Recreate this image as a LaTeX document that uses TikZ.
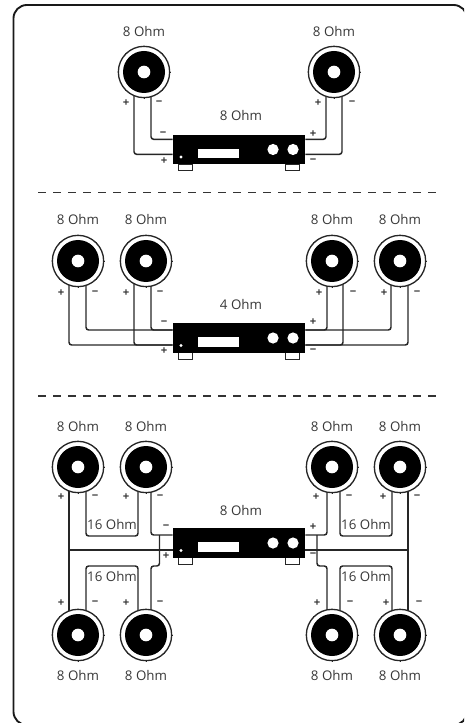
\documentclass[tikz,border=0pt]{standalone}
\usepackage{fontspec}
\setmainfont{Open Sans}
\usetikzlibrary{calc,backgrounds}
\definecolor{txt}{gray}{0.22}
\tikzset{
  x=0.75pt,y=-0.75pt,
  wire/.style={draw=black!85,line width=1.1pt,rounded corners=2pt},
  heavy/.style={line width=1.5pt},
  ohm/.style={text=txt,font=\fontsize{10}{11}\selectfont,inner sep=0pt},
  sign/.style={text=txt,font=\fontsize{8.5}{10}\selectfont\bfseries,inner sep=0pt},
  cone/.style={circle,fill=black,inner sep=0pt,minimum size=31.5pt},
  rim/.style={circle,draw=black!85,fill=white,line width=1pt,inner sep=0pt,minimum size=38.5pt},
  hub/.style={circle,fill=white,inner sep=0pt,minimum size=9.5pt},
  chassis/.style={rectangle,fill=black,inner sep=0pt,minimum width=99pt,minimum height=22pt},
  foot/.style={rectangle,draw=black!85,fill=white,line width=0.9pt,inner sep=0pt,minimum width=11pt,minimum height=5pt},
  panel/.style={rectangle,fill=white,inner sep=0pt,minimum width=31pt,minimum height=6.8pt},
  knob/.style={circle,fill=white,inner sep=0pt,minimum size=8.4pt},
  led/.style={circle,fill=white,inner sep=0pt,minimum size=2.4pt},
  divider/.style={draw=black!80,line width=1pt,dash pattern=on 6pt off 5.25pt},
  frame/.style={draw=black!90,line width=1.4pt,rounded corners=10pt}
}
\newcommand{\speaker}[3]{%
  \node[rim] (#1) at (#2,#3) {};
  \foreach \a in {0,45,...,315}{\draw[black!85,line width=0.7pt] ($(#1)+(\a:25.6)$) -- ($(#1)+(\a:26.4)$);}
  \node[cone] (#1c) at (#1) {};
  \node[hub] (#1h) at (#1) {};
}
\newcommand{\ampl}[2]{%
  \node[foot] (#1fl) at (185.5,#2+18) {};
  \node[foot] (#1fr) at (292.5,#2+18) {};
  \node[chassis] (#1) at (239,#2) {};
  \node[panel] (#1p) at (218.5,#2+4) {};
  \node[knob] (#1ka) at (273,#2) {};
  \node[knob] (#1kb) at (293,#2) {};
  \node[led] (#1l) at (181,#2+7.5) {};
}
\newcount\lblc
\newcommand{\lbl}[4][sign]{\global\advance\lblc by 1 \node[#1] (lbl\the\lblc) at (#2,#3) {#4};}
\newcommand{\wirepath}[2][]{\begin{scope}[on background layer]\draw[wire,#1] #2;\end{scope}}
\begin{document}
\begin{tikzpicture}
\useasboundingbox (0,0) rectangle (464,723);
\clip (0,0) rectangle (464,723);
\draw[frame] (13.5,5) rectangle (467,725);
\coordinate (dl1) at (38,192.5); \coordinate (dr1) at (437,192.5);
\coordinate (dl2) at (38,396); \coordinate (dr2) at (437,396);
\draw[divider] (dl1) -- (dr1);
\draw[divider] (dl2) -- (dr2);

% ---------- top group
\speaker{a1}{144}{72}
\speaker{a2}{334}{72}
\ampl{ampa}{149.5}
\wirepath{($(a1)+(-10,20)$) |- ($(ampa.west)+(0,4.8)$)}
\wirepath{($(a1)+(7,20)$) |- ($(ampa.west)+(0,-10.2)$)}
\wirepath{($(a2)+(-8,20)$) |- ($(ampa.east)+(0,-10.2)$)}
\wirepath{($(a2)+(8,20)$) |- ($(ampa.east)+(0,4.8)$)}
\lbl[ohm]{144}{32}{8 Ohm}
\lbl[ohm]{334}{32}{8 Ohm}
\lbl[ohm]{241}{116}{8 Ohm}
\lbl{126}{103}{+}\lbl{159}{103}{−}
\lbl{318}{103}{+}\lbl{352}{103}{−}
\lbl{163}{134}{−}\lbl{164}{161}{+}
\lbl{313}{134}{+}\lbl{313}{161}{−}

% ---------- middle group
\speaker{b1}{78}{261}
\speaker{b2}{146}{261}
\speaker{b3}{332}{261}
\speaker{b4}{400}{261}
\ampl{ampb}{338}
\wirepath{($(b1)+(-9,20)$) |- ($(ampb.west)+(0,7)$)}
\wirepath{($(b1)+(8,20)$) |- ($(ampb.west)+(0,-8)$)}
\wirepath{($(b2)+(-12,20)$) |- ($(ampb.west)+(0,7)$)}
\wirepath{($(b2)+(5,20)$) |- ($(ampb.west)+(0,-8)$)}
\wirepath{($(b3)+(-5,20)$) |- ($(ampb.east)+(0,-8)$)}
\wirepath{($(b3)+(11,20)$) |- ($(ampb.east)+(0,7)$)}
\wirepath{($(b4)+(-9,20)$) |- ($(ampb.east)+(0,-8)$)}
\wirepath{($(b4)+(8,20)$) |- ($(ampb.east)+(0,7)$)}
\lbl[ohm]{78}{220}{8 Ohm}\lbl[ohm]{146}{220}{8 Ohm}
\lbl[ohm]{332}{220}{8 Ohm}\lbl[ohm]{400}{220}{8 Ohm}
\lbl[ohm]{241}{304}{4 Ohm}
\lbl{61}{293}{+}\lbl{95}{293}{−}\lbl{126}{293}{+}\lbl{160}{293}{−}
\lbl{319}{293}{+}\lbl{353}{293}{−}\lbl{384}{293}{+}\lbl{417}{293}{−}
\lbl{164}{323}{−}\lbl{164}{351}{+}
\lbl{313}{322}{+}\lbl{313}{351}{−}

% ---------- bottom group
\speaker{c1}{78}{467}
\speaker{c2}{146}{467}
\speaker{c3}{332}{467}
\speaker{c4}{400}{467}
\speaker{d1}{78}{635}
\speaker{d2}{146}{635}
\speaker{d3}{332}{635}
\speaker{d4}{400}{635}
\ampl{ampc}{543}
% left side
\wirepath[heavy]{($(c1)+(-9,20)$) -- ($(d1)+(-9,-20)$)}
\wirepath[rounded corners=0pt]{($(c1)+(-9,83)$) -- ($(ampc.west)+(0,7)$)}
\wirepath{($(c1)+(8,20)$) |- (138,536) -- ($(c2)+(-8,20)$)}
\wirepath{($(c2)+(5,20)$) |- ($(ampc.west)+(0,-8)$)}
\wirepath{($(d1)+(8,-20)$) |- (138,566) -- ($(d2)+(-8,-20)$)}
\wirepath{($(d2)+(5,-20)$) |- (159.5,566) -- (159.5,535)}
% right side
\wirepath[heavy]{($(c4)+(8,20)$) -- ($(d4)+(8,-20)$)}
\wirepath[rounded corners=0pt]{($(c4)+(8,83)$) -- ($(ampc.east)+(0,7)$)}
\wirepath{($(c3)+(-5,20)$) |- ($(ampc.east)+(0,-8)$)}
\wirepath{($(c3)+(8,20)$) |- (392,536) -- ($(c4)+(-8,20)$)}
\wirepath{($(d3)+(8,-20)$) |- (392,566) -- ($(d4)+(-8,-20)$)}
\wirepath{($(d3)+(-5,-20)$) |- (317,566) -- (317,535)}
\lbl[ohm]{78}{426}{8 Ohm}\lbl[ohm]{146}{426}{8 Ohm}
\lbl[ohm]{332}{426}{8 Ohm}\lbl[ohm]{400}{426}{8 Ohm}
\lbl[ohm]{78}{675}{8 Ohm}\lbl[ohm]{146}{675}{8 Ohm}
\lbl[ohm]{332}{675}{8 Ohm}\lbl[ohm]{400}{675}{8 Ohm}
\lbl[ohm]{241}{510}{8 Ohm}
\lbl[ohm]{112}{524}{16 Ohm}\lbl[ohm]{112}{576}{16 Ohm}
\lbl[ohm]{366}{524}{16 Ohm}\lbl[ohm]{366}{576}{16 Ohm}
\lbl{61}{497}{+}\lbl{95}{497}{−}\lbl{126}{497}{+}\lbl{160}{497}{−}
\lbl{316}{497}{+}\lbl{349}{497}{−}\lbl{383}{497}{+}\lbl{417}{497}{−}
\lbl{61}{603}{+}\lbl{95}{603}{−}\lbl{126}{603}{+}\lbl{160}{603}{−}
\lbl{317}{603}{+}\lbl{350}{603}{−}\lbl{386}{603}{+}\lbl{419}{603}{−}
\lbl{166}{527}{−}\lbl{166}{556}{+}
\lbl{313}{527}{+}\lbl{313}{555}{−}
\end{tikzpicture}
\end{document}
